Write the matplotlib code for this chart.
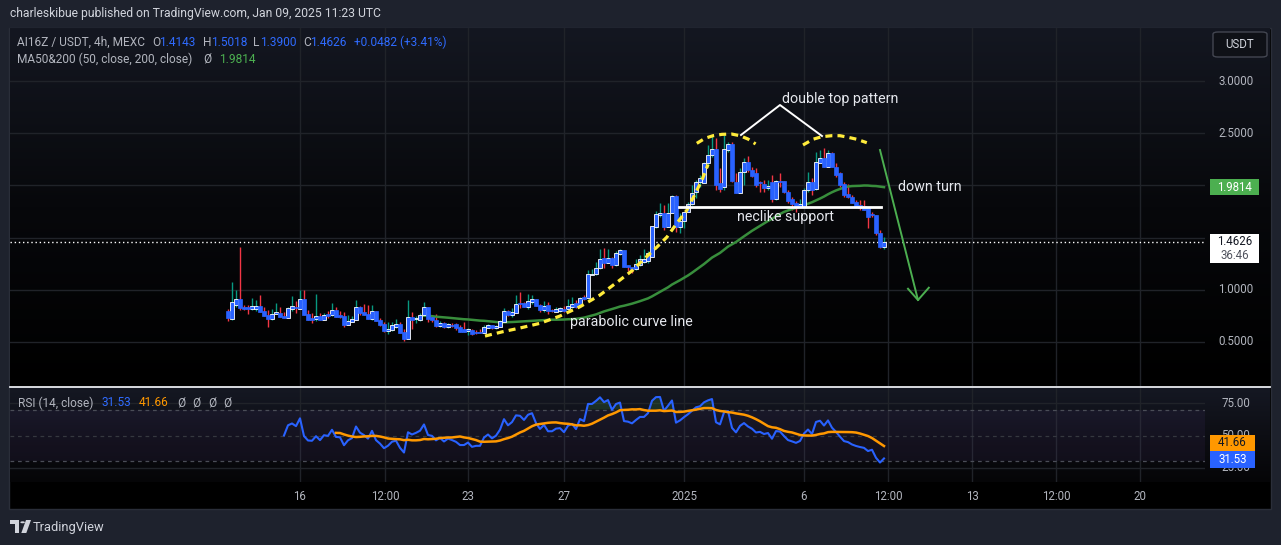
import numpy as np
import pandas as pd
import matplotlib
matplotlib.use("Agg")
import matplotlib.pyplot as plt
from matplotlib.patches import Rectangle, FancyBboxPatch, Polygon, Circle
from matplotlib.colors import LinearSegmentedColormap

plt.rcParams['font.family'] = ['Roboto', 'DejaVu Sans']

# ---------------- data (4h candles, AI16Z/USDT, from Dec 13 00:00) ----------------
opens = [0.797, 0.720, 0.857, 0.909, 0.838, 0.826, 0.813, 0.816, 0.848, 0.797,
         0.758, 0.723, 0.771, 0.778, 0.752, 0.733, 0.819, 0.838, 0.819, 0.909,
         0.768, 0.733, 0.717, 0.749, 0.714, 0.768, 0.758, 0.806, 0.755, 0.746,
         0.666, 0.691, 0.714, 0.835, 0.787, 0.768, 0.720, 0.797, 0.710, 0.672,
         0.605, 0.615, 0.646, 0.672, 0.596, 0.531, 0.736, 0.720, 0.710, 0.755,
         0.835, 0.736, 0.710, 0.653, 0.682, 0.646, 0.660, 0.672, 0.640, 0.621,
         0.608, 0.615, 0.599, 0.596, 0.589, 0.637, 0.663, 0.634, 0.643, 0.691,
         0.797, 0.761, 0.781, 0.870, 0.870, 0.838, 0.880, 0.912, 0.854, 0.806,
         0.854, 0.806, 0.787, 0.797, 0.819, 0.816, 0.838, 0.870, 0.854, 0.931,
         0.918, 1.144, 1.148, 1.206, 1.302, 1.260, 1.305, 1.237, 1.343, 1.381,
         1.237, 1.221, 1.199, 1.237, 1.263, 1.276, 1.317, 1.604, 1.713, 1.736,
         1.604, 1.732, 1.898, 1.604, 1.660, 1.748, 1.822, 1.940, 2.035, 2.026,
         2.212, 2.291, 2.346, 2.026, 1.988, 2.339, 2.397, 2.035, 1.930, 2.131,
         2.227, 2.147, 2.116, 2.035, 2.011, 1.972, 2.035, 1.870, 2.042, 2.042,
         1.940, 1.867, 1.829, 1.790, 1.790, 1.956, 2.035, 1.963, 2.217, 2.260,
         2.179, 2.307, 2.179, 2.116, 2.013, 1.918, 1.886, 1.841, 1.812, 1.803,
         1.790, 1.726, 1.716, 1.541, 1.4143]
highs = [0.816, 1.074, 1.000, 1.410, 0.851, 0.854, 0.918, 0.902, 0.950, 0.835,
         0.806, 0.816, 0.873, 0.835, 0.787, 0.838, 0.940, 0.893, 1.000, 1.000,
         0.806, 0.778, 0.960, 0.774, 0.774, 0.797, 0.873, 0.835, 0.797, 0.787,
         0.755, 0.749, 0.902, 0.845, 0.864, 0.854, 0.854, 0.797, 0.730, 0.691,
         0.691, 0.691, 0.720, 0.691, 0.624, 0.902, 0.787, 0.749, 0.778, 0.883,
         0.835, 0.749, 0.768, 0.698, 0.691, 0.685, 0.685, 0.682, 0.660, 0.691,
         0.631, 0.627, 0.615, 0.624, 0.660, 0.672, 0.663, 0.663, 0.711, 0.826,
         0.806, 0.829, 0.950, 0.979, 0.883, 0.960, 0.950, 0.912, 0.864, 0.893,
         0.883, 0.816, 0.835, 0.835, 0.845, 0.909, 0.928, 0.902, 0.928, 0.950,
         1.190, 1.197, 1.269, 1.391, 1.398, 1.391, 1.317, 1.372, 1.394, 1.381,
         1.237, 1.221, 1.292, 1.333, 1.388, 1.369, 1.611, 1.755, 1.828, 1.812,
         1.828, 1.908, 1.908, 1.736, 1.745, 1.844, 2.004, 2.052, 2.100, 2.228,
         2.387, 2.483, 2.451, 2.164, 2.483, 2.419, 2.419, 2.116, 2.164, 2.260,
         2.282, 2.179, 2.164, 2.045, 2.052, 2.052, 2.100, 2.052, 2.116, 2.042,
         1.956, 1.892, 1.854, 1.867, 1.972, 2.131, 2.068, 2.323, 2.339, 2.355,
         2.339, 2.323, 2.212, 2.131, 2.035, 2.013, 1.908, 1.860, 1.860, 1.860,
         1.790, 1.748, 1.716, 1.573, 1.5018]
lows = [0.704, 0.710, 0.838, 0.803, 0.803, 0.771, 0.803, 0.797, 0.787, 0.749,
        0.643, 0.710, 0.771, 0.742, 0.733, 0.733, 0.800, 0.778, 0.819, 0.758,
        0.710, 0.682, 0.704, 0.710, 0.710, 0.733, 0.749, 0.742, 0.730, 0.643,
        0.660, 0.691, 0.714, 0.758, 0.755, 0.720, 0.707, 0.701, 0.653, 0.596,
        0.576, 0.608, 0.637, 0.589, 0.512, 0.531, 0.624, 0.679, 0.701, 0.749,
        0.691, 0.688, 0.646, 0.646, 0.637, 0.637, 0.640, 0.615, 0.599, 0.599,
        0.567, 0.567, 0.576, 0.583, 0.583, 0.631, 0.624, 0.624, 0.643, 0.691,
        0.749, 0.742, 0.781, 0.828, 0.835, 0.819, 0.861, 0.848, 0.787, 0.787,
        0.768, 0.787, 0.787, 0.787, 0.790, 0.806, 0.828, 0.823, 0.845, 0.902,
        0.912, 1.142, 1.142, 1.196, 1.206, 1.254, 1.206, 1.231, 1.330, 1.221,
        1.180, 1.161, 1.190, 1.228, 1.254, 1.260, 1.311, 1.589, 1.694, 1.573,
        1.604, 1.732, 1.551, 1.547, 1.595, 1.742, 1.812, 1.876, 1.988, 2.020,
        2.180, 2.275, 1.956, 1.940, 1.956, 2.323, 2.033, 1.924, 1.924, 2.004,
        2.131, 2.078, 1.988, 1.940, 1.940, 1.956, 1.844, 1.860, 1.988, 1.924,
        1.829, 1.764, 1.748, 1.790, 1.790, 1.940, 1.908, 1.956, 2.212, 2.179,
        2.173, 2.173, 2.084, 1.988, 1.892, 1.876, 1.829, 1.790, 1.764, 1.764,
        1.589, 1.700, 1.525, 1.398, 1.3900]
closes = [0.733, 0.880, 0.909, 0.828, 0.816, 0.819, 0.845, 0.842, 0.787, 0.749,
          0.720, 0.768, 0.784, 0.742, 0.733, 0.826, 0.845, 0.826, 0.909, 0.758,
          0.710, 0.707, 0.749, 0.710, 0.755, 0.749, 0.806, 0.742, 0.739, 0.660,
          0.701, 0.720, 0.835, 0.778, 0.755, 0.720, 0.797, 0.701, 0.660, 0.602,
          0.624, 0.660, 0.669, 0.589, 0.528, 0.736, 0.710, 0.730, 0.755, 0.835,
          0.720, 0.710, 0.656, 0.682, 0.640, 0.669, 0.653, 0.634, 0.599, 0.599,
          0.618, 0.576, 0.583, 0.583, 0.640, 0.663, 0.634, 0.653, 0.698, 0.797,
          0.755, 0.787, 0.864, 0.861, 0.835, 0.893, 0.912, 0.848, 0.806, 0.845,
          0.797, 0.797, 0.819, 0.823, 0.797, 0.848, 0.864, 0.832, 0.922, 0.909,
          1.148, 1.148, 1.209, 1.292, 1.260, 1.305, 1.237, 1.349, 1.381, 1.221,
          1.215, 1.199, 1.247, 1.292, 1.292, 1.349, 1.611, 1.726, 1.732, 1.604,
          1.732, 1.898, 1.604, 1.660, 1.743, 1.822, 1.924, 2.035, 2.068, 2.212,
          2.291, 2.346, 2.004, 1.965, 2.346, 2.397, 2.045, 1.930, 2.131, 2.227,
          2.147, 2.093, 2.004, 2.020, 1.972, 1.994, 1.870, 2.042, 2.033, 1.940,
          1.851, 1.822, 1.790, 1.822, 1.956, 2.035, 1.956, 2.227, 2.260, 2.179,
          2.307, 2.179, 2.100, 2.004, 1.908, 1.886, 1.835, 1.803, 1.781, 1.764,
          1.700, 1.716, 1.541, 1.413, 1.4626]

# last indicator values as printed on the chart
ma_last_label = 1.9814
rsi_last_label = 31.53
rsi_ma_last_label = 41.66

# time axis (positions in candle index units) and labels
time_tick_pos = [18, 39.25, 60, 84, 114, 144, 165, 186, 207, 228]
time_tick_labels = ['16', '12:00', '23', '27', '2025', '6', '12:00', '13', '12:00', '20']
price_grid = [0.5, 1.0, 1.5, 2.0, 2.5, 3.0]
price_ticks = [0.5, 1.0, 2.5, 3.0]
price_tick_labels = ['0.5000', '1.0000', '2.5000', '3.0000']
rsi_ticks = [25, 50, 75]
rsi_tick_labels = ['25.00', '50.00', '75.00']

# drawn annotations (candle index, price)
parab_x = [64.25, 68.75, 73, 78, 83, 88, 93, 98, 101.25, 103.75, 107.25, 109.75, 112.25, 114.75, 116.75, 118.5, 120.0]
parab_y = [0.557, 0.599, 0.634, 0.679, 0.749, 0.838, 0.950, 1.094, 1.190, 1.285, 1.410, 1.506, 1.640, 1.764, 1.918, 2.052, 2.200]
top1_x = [117.2, 119.25, 121.25, 123.5, 125.9, 128, 130, 131.9]
top1_y = [2.403, 2.451, 2.476, 2.489, 2.492, 2.476, 2.444, 2.397]
top2_x = [143.75, 146.25, 148.4, 150.9, 153, 155, 157.2, 159.7]
top2_y = [2.387, 2.442, 2.466, 2.476, 2.476, 2.461, 2.442, 2.409]
neck_x = [112.75, 163.25]
neck_y = [1.793, 1.793]

# ---------------- figure ----------------
W, H = 1281, 545
fig = plt.figure(figsize=(W / 100, H / 100), dpi=100)
fig.patch.set_facecolor('#1e222d')


def fx(x):
    return x / W


def fy(y):
    return 1 - y / H


fig.add_artist(Rectangle((fx(9), fy(509)), 1262 / W, 481 / H, transform=fig.transFigure,
                         fc='#000000', ec='#2a2e39', lw=1, zorder=0))

grad = np.linspace(0, 1, 256).reshape(-1, 1)
bgp = fig.add_axes([fx(10), fy(386), 1260 / W, 358 / H], zorder=0)
bgp.imshow(grad, aspect='auto', origin='lower', extent=[0, 1, 0, 1],
           cmap=LinearSegmentedColormap.from_list('p', ['#000000', '#07080b', '#141721']))
bgp.axis('off')
bgr = fig.add_axes([fx(10), fy(482), 1260 / W, 95 / H], zorder=0)
bgr.imshow(grad, aspect='auto', origin='lower', extent=[0, 1, 0, 1],
           cmap=LinearSegmentedColormap.from_list('r', ['#050507', '#0d0e14', '#151823']))
bgr.axis('off')

XL = (-54.5, 244.25)
ax = fig.add_axes([fx(10), fy(386), 1195 / W, 358 / H], zorder=2)
ax.set_facecolor('none')
ax.set_xlim(*XL)
ax.set_ylim(0.0785, 3.5077)
ax.axis('off')

axr = fig.add_axes([fx(10), fy(482), 1195 / W, 94 / H], zorder=2)
axr.set_facecolor('none')
axr.set_xlim(*XL)
axr.set_ylim(14.23, 86.54)
axr.axis('off')

gridc = '#202329'
for p in price_grid:
    ax.axhline(p, color=gridc, lw=1, zorder=1)
for t in time_tick_pos:
    ax.axvline(t, color=gridc, lw=1, zorder=1)
    axr.axvline(t, color=gridc, lw=1, zorder=1)
for v in (75, 25):
    axr.axhline(v, color=gridc, lw=1, zorder=1)

# ---------------- candles ----------------
o = np.array(opens); h = np.array(highs); l = np.array(lows); c = np.array(closes)
idx = np.arange(len(c))
up = c >= o
ax.vlines(idx[up], l[up], h[up], color='#089981', lw=1, zorder=3)
ax.vlines(idx[~up], l[~up], h[~up], color='#f23645', lw=1, zorder=3)
bottom = np.minimum(o, c)
height = np.maximum(np.abs(c - o), 0.012)
ax.bar(idx[up], height[up], bottom=bottom[up], width=0.8, color='#2962ff',
       edgecolor='#ffffff', linewidth=0.6, zorder=4)
ax.bar(idx[~up], height[~up], bottom=bottom[~up], width=0.8, color='#2962ff',
       edgecolor='#2962ff', linewidth=0.5, zorder=4)

ma50 = pd.Series(c).rolling(50).mean().values
ax.plot(idx, ma50, color='#388e3c', lw=1.8, zorder=3.5)

ax.axhline(c[-1], color='#ffffff', lw=1, ls=(0, (1, 2)), zorder=2)

# annotations
ax.plot(parab_x, parab_y, color='#ffeb3b', lw=2.3, ls=(0, (2.2, 1.6)), zorder=6)
ax.plot(top1_x, top1_y, color='#ffeb3b', lw=2.3, ls=(0, (2.2, 1.6)), zorder=6)
ax.plot(top2_x, top2_y, color='#ffeb3b', lw=2.3, ls=(0, (2.2, 1.6)), zorder=6)
ax.plot(neck_x, neck_y, color='#ffffff', lw=2, zorder=6)
ax.plot([128.25, 138, 148.5], [2.483, 2.770, 2.473], color='#ffffff', lw=1.4, zorder=6)
ax.plot([163, 172.5], [2.339, 0.902], color='#4caf50', lw=1.4, zorder=6)
ax.plot([170.0, 172.5, 175.2], [1.010, 0.902, 1.020], color='#4caf50', lw=1.4, zorder=6)
anncol = '#e6e8ee'
ax.text(138.5, 2.828, 'double top pattern', color=anncol, fontsize=10.3, ha='left', va='center', zorder=7)
ax.text(139.5, 1.697, 'neclike support', color=anncol, fontsize=10.3, ha='center', va='center', zorder=7)
ax.text(85.5, 0.692, 'parabolic curve line', color=anncol, fontsize=10.3, ha='left', va='center', zorder=7)
ax.text(167.5, 1.985, 'down turn', color=anncol, fontsize=10.3, ha='left', va='center', zorder=7)

# ---------------- RSI ----------------
n = 14
d = np.diff(c)
gain = np.where(d > 0, d, 0.0)
loss = np.where(d < 0, -d, 0.0)
rsi = np.full(len(c), np.nan)
ag = gain[:n].mean(); al = loss[:n].mean()
rsi[n] = 100 - 100 / (1 + ag / al)
for k in range(n + 1, len(c)):
    ag = (ag * (n - 1) + gain[k - 1]) / n
    al = (al * (n - 1) + loss[k - 1]) / n
    rsi[k] = 100 - 100 / (1 + ag / al)
rsi_ma = pd.Series(rsi).rolling(14).mean().values

axr.fill_between(XL, 30, 70, color='#7e57c2', alpha=0.08, zorder=1, lw=0)
axr.axhline(70, color='#4a4d57', lw=0.9, ls=(0, (3, 3)), zorder=1.5)
axr.axhline(50, color='#35383f', lw=0.9, ls=(0, (3, 3)), zorder=1.5)
axr.axhline(30, color='#4a4d57', lw=0.9, ls=(0, (3, 3)), zorder=1.5)
axr.fill_between(idx, 70, rsi, where=rsi > 70, interpolate=True, color='#4caf50', alpha=0.18, lw=0, zorder=2)
axr.plot(idx, rsi, color='#2962ff', lw=1.5, zorder=3)
axr.plot(idx, rsi_ma, color='#ff9800', lw=1.8, zorder=4)

# separator between panes
fig.add_artist(plt.Line2D([fx(10), fx(1270)], [fy(386.5), fy(386.5)], transform=fig.transFigure,
                          color='#e8eaef', lw=1.3, zorder=5))

# ---------------- axis labels ----------------
axc = '#b2b5be'
to_fig = fig.transFigure.inverted()


def yfig(axis, v):
    return to_fig.transform(axis.transData.transform((0, v)))[1]


def xfig(axis, v):
    return to_fig.transform(axis.transData.transform((v, 0)))[0]


for p, s in zip(price_ticks, price_tick_labels):
    fig.text(fx(1236), yfig(ax, p), s, color=axc, fontsize=8.3, ha='center', va='center', zorder=6)
for v, s in zip(rsi_ticks, rsi_tick_labels):
    fig.text(fx(1236), yfig(axr, v), s, color=axc, fontsize=8.3, ha='center', va='center', zorder=6)
for t, s in zip(time_tick_pos, time_tick_labels):
    fig.text(xfig(ax, t), fy(496), s, color=axc, fontsize=8.3, ha='center', va='center', zorder=6)

# price labels on axis
ym = yfig(ax, ma_last_label)
fig.add_artist(Rectangle((fx(1210), ym - 8 / H), 49 / W, 16 / H, transform=fig.transFigure,
                         fc='#4caf50', ec='none', zorder=7))
fig.text(fx(1234.5), ym, f'{ma_last_label:.4f}', color='white', fontsize=8.3, ha='center', va='center', zorder=8)
yc = yfig(ax, c[-1])
fig.add_artist(Rectangle((fx(1210), yc - 21 / H), 49 / W, 29 / H, transform=fig.transFigure,
                         fc='#ffffff', ec='none', zorder=7))
fig.text(fx(1234.5), yc, f'{c[-1]:.4f}', color='#131722', fontsize=8.3, ha='center', va='center', zorder=8)
fig.text(fx(1234.5), yc - 14 / H, '36:46', color='#50535e', fontsize=8.3, ha='center', va='center', zorder=8)

yb = yfig(axr, rsi_last_label)
fig.add_artist(Rectangle((fx(1210), yb - 8.3 / H), 45 / W, 16.6 / H, transform=fig.transFigure,
                         fc='#2962ff', ec='none', zorder=7))
fig.text(fx(1232.5), yb, f'{rsi_last_label:.2f}', color='white', fontsize=8.3, ha='center', va='center', zorder=8)
yo = yb + 16.6 / H
fig.add_artist(Rectangle((fx(1210), yo - 8.3 / H), 45 / W, 16.6 / H, transform=fig.transFigure,
                         fc='#ff9800', ec='none', zorder=7))
fig.text(fx(1232.5), yo, f'{rsi_ma_last_label:.2f}', color='#131722', fontsize=8.3, ha='center', va='center', zorder=8)

# USDT button
fig.add_artist(FancyBboxPatch((fx(1213), fy(57)), 54 / W, 25 / H, boxstyle='round,pad=0,rounding_size=0.004',
                              transform=fig.transFigure, fc='#0f1117', ec='#434651', lw=1, zorder=6))
fig.text(fx(1240), fy(45), 'USDT', color='#d1d4dc', fontsize=8.3, ha='center', va='center', zorder=7)

# ---------------- header / legends ----------------
fig.text(fx(10), fy(14), 'charleskibue published on TradingView.com, Jan 09, 2025 11:23 UTC',
         color='#d1d4dc', fontsize=8.7, ha='left', va='center')
gray = '#b2b5be'
blue = '#2f6bff'
pieces1 = [(17, 'AI16Z / USDT, 4h, MEXC', gray), (152, 'O', gray), (159, '1.4143', blue),
           (203, 'H', gray), (211, '1.5018', blue), (253, 'L', gray), (260, '1.3900', blue),
           (303, 'C', gray), (310, '1.4626', blue), (354, '+0.0482 (+3.41%)', blue)]
for x, s, col in pieces1:
    fig.text(fx(x), fy(42), s, color=col, fontsize=8.6, ha='left', va='center', zorder=6)
pieces2 = [(17, 'MA50&200 (50, close, 200, close)', gray), (203, 'Ø', gray), (219, '1.9814', '#4caf50')]
for x, s, col in pieces2:
    fig.text(fx(x), fy(59), s, color=col, fontsize=8.6, ha='left', va='center', zorder=6)
pieces3 = [(18, 'RSI (14, close)', gray), (102, '31.53', blue), (139, '41.66', '#ff9800'),
           (177, 'Ø', gray), (192, 'Ø', gray), (208, 'Ø', gray), (223, 'Ø', gray)]
for x, s, col in pieces3:
    fig.text(fx(x), fy(403), s, color=col, fontsize=8.6, ha='left', va='center', zorder=6)

# TradingView logo + text
logoc = '#d1d4dc'
fig.add_artist(Polygon([(fx(10), fy(520)), (fx(19), fy(520)), (fx(19), fy(533)), (fx(14.8), fy(533)),
                        (fx(14.8), fy(524.3)), (fx(10), fy(524.3))], closed=True,
                       transform=fig.transFigure, fc=logoc, ec='none'))
fig.add_artist(Circle((fx(22.6), fy(522.3)), 2.3 / W, transform=fig.transFigure, fc=logoc, ec='none'))
fig.add_artist(Polygon([(fx(26), fy(520)), (fx(31), fy(520)), (fx(26.3), fy(533)), (fx(21.3), fy(533))],
                       closed=True, transform=fig.transFigure, fc=logoc, ec='none'))
fig.text(fx(33), fy(527), 'TradingView', color=logoc, fontsize=9.3, ha='left', va='center')

fig.savefig('out.png', dpi=100, facecolor=fig.get_facecolor())
